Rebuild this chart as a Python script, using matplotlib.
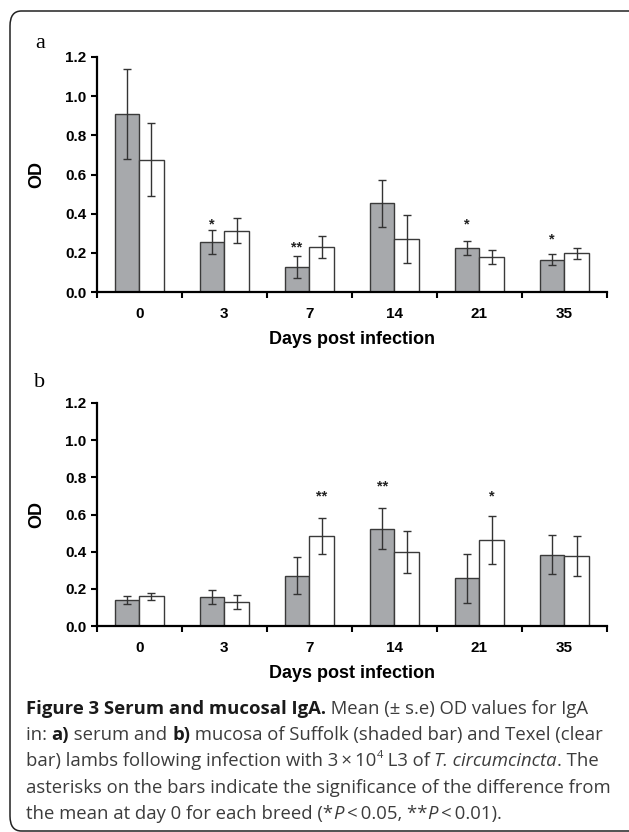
import matplotlib
matplotlib.use('Agg')
import matplotlib.pyplot as plt
import numpy as np
from matplotlib.patches import FancyBboxPatch

# data
days = ['0', '3', '7', '14', '21', '35']

serum_suffolk = [0.91, 0.255, 0.128, 0.454, 0.225, 0.165]
serum_suffolk_se = [0.23, 0.06, 0.057, 0.12, 0.035, 0.029]
serum_texel = [0.676, 0.313, 0.23, 0.269, 0.179, 0.197]
serum_texel_se = [0.185, 0.063, 0.056, 0.122, 0.036, 0.026]

mucosa_suffolk = [0.141, 0.155, 0.270, 0.524, 0.256, 0.384]
mucosa_suffolk_se = [0.02, 0.038, 0.10, 0.11, 0.13, 0.105]
mucosa_texel = [0.160, 0.128, 0.485, 0.398, 0.465, 0.377]
mucosa_texel_se = [0.02, 0.038, 0.097, 0.112, 0.129, 0.107]

# significance marks: (day index, breed 0=Suffolk 1=Texel, label, height)
serum_marks = [(1, 0, '*', 0.369), (2, 0, '**', 0.25), (4, 0, '*', 0.369), (5, 0, '*', 0.293)]
mucosa_marks = [(2, 1, '**', 0.723), (3, 0, '**', 0.773), (4, 1, '*', 0.723)]

W, H = 629, 832
fig = plt.figure(figsize=(W / 100, H / 100), dpi=100)

GREY = '#a7a9ac'
EDGE = '#3a3a3a'
TICKFONT = 'Liberation Sans'
bar_w = 0.288


def panel(rect, suffolk, suffolk_se, texel, texel_se, marks):
    ax = fig.add_axes(rect)
    x = np.arange(len(days))
    ax.bar(x - bar_w / 2, suffolk, bar_w, color=GREY, edgecolor=EDGE, linewidth=1.0, zorder=2)
    ax.bar(x + bar_w / 2, texel, bar_w, color='white', edgecolor=EDGE, linewidth=1.0, zorder=2)
    ax.errorbar(x - bar_w / 2, suffolk, yerr=suffolk_se, fmt='none', ecolor='#333333',
                elinewidth=1.0, capsize=3, capthick=1.0, zorder=3)
    ax.errorbar(x + bar_w / 2, texel, yerr=texel_se, fmt='none', ecolor='#333333',
                elinewidth=1.0, capsize=3, capthick=1.0, zorder=3)
    for i, b, lab, yv in marks:
        xs = i - bar_w / 2 if b == 0 else i + bar_w / 2
        ax.text(xs, yv - 0.045, lab, ha='center', va='baseline', fontsize=10.5,
                fontweight='bold', family=TICKFONT, color='#222222')

    ax.set_xlim(-0.5, len(days) - 0.5)
    ax.set_ylim(0, 1.2)
    ax.set_yticks(np.arange(0, 1.21, 0.2))
    ax.set_yticklabels(['%.1f' % v for v in np.arange(0, 1.21, 0.2)])
    ax.set_xticks(x)
    ax.set_xticklabels(days)
    ax.set_xticks(np.arange(-0.5, len(days), 1.0), minor=True)
    ax.tick_params(axis='x', which='major', length=0, pad=11)
    ax.tick_params(axis='x', which='minor', length=4, width=1.5, direction='out')
    ax.tick_params(axis='y', length=4, width=1.5, pad=3.5)
    for lab in ax.get_xticklabels() + ax.get_yticklabels():
        lab.set_fontfamily(TICKFONT)
        lab.set_fontweight('bold')
        lab.set_fontsize(11)
    for s in ['top', 'right']:
        ax.spines[s].set_visible(False)
    for s in ['left', 'bottom']:
        ax.spines[s].set_linewidth(1.6)
    ax.set_ylabel('OD', fontsize=13, fontweight='bold', family=TICKFONT)
    ax.yaxis.set_label_coords(-0.10, 0.5)
    ax.set_xlabel('Days post infection', fontsize=13, fontweight='bold', family=TICKFONT, labelpad=7)
    return ax


left = 96.7 / W
width = (607 - 96.7) / W
panel([left, 1 - 292 / H, width, (292 - 57) / H],
      serum_suffolk, serum_suffolk_se, serum_texel, serum_texel_se, serum_marks)
panel([left, 1 - 626 / H, width, (626 - 403) / H],
      mucosa_suffolk, mucosa_suffolk_se, mucosa_texel, mucosa_texel_se, mucosa_marks)

fig.text(40 / W, 1 - 48 / H, 'a', family='Liberation Serif', fontsize=16, ha='center', va='baseline')
fig.text(40 / W, 1 - 387 / H, 'b', family='Liberation Serif', fontsize=16, ha='center', va='baseline')

# rounded frame
frame = FancyBboxPatch((10 / W, 1 - 831 / H), 640 / W, 820 / H,
                       boxstyle='round,pad=0,rounding_size=0.018',
                       transform=fig.transFigure, fill=False, edgecolor='#222222',
                       linewidth=1.1, clip_on=False)
fig.patches.append(frame)

# caption
renderer = fig.canvas.get_renderer()
CAP = 'Open Sans'
CAP_SIZE = 13.3
REG = dict(family=CAP, fontsize=CAP_SIZE, color='#3c3c3c')
BOLD = dict(family=CAP, fontsize=CAP_SIZE, color='#1a1a1a', fontweight='bold')
ITAL = dict(family=CAP, fontsize=CAP_SIZE, color='#3c3c3c', style='italic')
SUP = dict(family=CAP, fontsize=CAP_SIZE * 0.6, color='#3c3c3c')


def text_width(s, kw):
    t1 = fig.text(0, 0, s + '|', **kw)
    t2 = fig.text(0, 0, '|', **kw)
    w = t1.get_window_extent(renderer).width - t2.get_window_extent(renderer).width
    t1.remove()
    t2.remove()
    return w


def caption_line(y_px, runs):
    x = 26.0
    for s, kw, dy in runs:
        fig.text(x / W, 1 - (y_px - dy) / H, s, va='baseline', ha='left', **kw)
        x += text_width(s, kw)


caption = [
    [('Figure 3 Serum and mucosal IgA.', BOLD, 0), (' Mean (\u00b1 s.e) OD values for IgA', REG, 0)],
    [('in: ', REG, 0), ('a)', BOLD, 0), (' serum and ', REG, 0), ('b)', BOLD, 0),
     (' mucosa of Suffolk (shaded bar) and Texel (clear', REG, 0)],
    [('bar) lambs following infection with 3\u2009\u00d7\u200910', REG, 0), ('4', SUP, 8),
     (' L3 of ', REG, 0), ('T. circumcincta', ITAL, 0), ('. The', REG, 0)],
    [('asterisks on the bars indicate the significance of the difference from', REG, 0)],
    [('the mean at day 0 for each breed (*', REG, 0), ('P', ITAL, 0), ('\u2009<\u20090.05, **', REG, 0),
     ('P', ITAL, 0), ('\u2009<\u20090.01).', REG, 0)],
]
baselines = [714, 740, 766.5, 793, 819]
for yb, runs in zip(baselines, caption):
    caption_line(yb, runs)

fig.savefig('out.png', dpi=100)
